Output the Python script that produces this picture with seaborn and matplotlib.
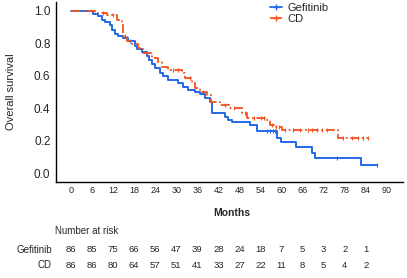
import numpy as np
import pandas as pd
import matplotlib
matplotlib.use("Agg")
import matplotlib.pyplot as plt
import matplotlib.transforms as mtransforms
from matplotlib.lines import Line2D
import seaborn as sns

# ---- data ----
gef_time = [0, 6.3, 7.7, 8.8, 9.7, 11.1, 11.7, 12.5, 13.4, 14.8, 16.2, 18.2, 18.8, 20.2,
            21.5, 22.3, 23.0, 24.0, 25.4, 26.2, 27.6, 30.5, 31.9, 33.3, 35.3, 36.8, 38.2,
            39.6, 40.2, 43.9, 44.7, 45.9, 51.0, 53.0, 58.7, 59.8, 64.0, 68.6, 69.5, 82.6, 87.2]
gef_surv = [1.0, 0.983, 0.97, 0.945, 0.93, 0.915, 0.88, 0.86, 0.845, 0.83, 0.815, 0.785, 0.765, 0.745,
            0.72, 0.70, 0.675, 0.645, 0.62, 0.60, 0.575, 0.555, 0.53, 0.515, 0.50, 0.485, 0.465,
            0.44, 0.37, 0.345, 0.327, 0.315, 0.296, 0.262, 0.216, 0.19, 0.16, 0.123, 0.095, 0.05, 0.05]
gef_censor = [16.8, 55.8, 56.7, 57.5, 58.2, 75.7, 87.2]

cd_time = [0, 6.8, 10.3, 13.1, 14.5, 14.8, 16.0, 17.4, 19.1, 20.5, 23.0, 24.8, 25.9, 27.6,
           31.6, 32.5, 34.5, 35.3, 36.8, 38.7, 40.0, 42.5, 45.3, 48.7, 50.0, 55.3, 56.7,
           58.0, 60.0, 76.0, 84.6]
cd_surv = [1.0, 0.99, 0.977, 0.946, 0.915, 0.845, 0.815, 0.797, 0.77, 0.74, 0.71, 0.685, 0.655, 0.636,
           0.617, 0.586, 0.555, 0.525, 0.50, 0.48, 0.44, 0.42, 0.40, 0.37, 0.34, 0.33, 0.296,
           0.284, 0.265, 0.216, 0.216]
cd_censor = [9.0, 12.0, 15.5, 21.5, 29.0, 30.5, 33.8, 37.5, 44.0, 46.5, 49.5, 52.0, 54.0, 55.0,
             57.2, 58.5, 59.3, 61.0, 63.2, 65.2, 67.5, 68.7, 70.0, 71.5, 73.0, 77.5, 80.0,
             81.8, 83.2, 84.6]

groups = ["Gefitinib", "CD"]
x_ticks = [0, 6, 12, 18, 24, 30, 36, 42, 48, 54, 60, 66, 72, 78, 84, 90]
y_ticks = [0.0, 0.2, 0.4, 0.6, 0.8, 1.0]
risk_times = [0, 6, 12, 18, 24, 30, 36, 42, 48, 54, 60, 66, 72, 78, 84]
gef_risk = [86, 85, 75, 66, 56, 47, 39, 28, 24, 18, 7, 5, 3, 2, 1]
cd_risk = [86, 86, 80, 64, 57, 51, 41, 33, 27, 22, 11, 8, 5, 4, 2]

BLUE = "#2468E8"
RED = "#F4511E"

sns.set_style("white")
plt.rcParams["font.family"] = ["Liberation Sans", "DejaVu Sans"]

fig = plt.figure(figsize=(4.07, 2.78), dpi=100)
ax = fig.add_axes([56 / 407, 1 - 182 / 278, (403 - 56) / 407, (182 - 2) / 278])


def step_value(times, surv, t):
    idx = np.searchsorted(times, t, side="right") - 1
    return np.asarray(surv)[idx]


gef_df = pd.DataFrame({"Months": gef_time, "Survival": gef_surv})
cd_df = pd.DataFrame({"Months": cd_time, "Survival": cd_surv})

sns.lineplot(data=gef_df, x="Months", y="Survival", ax=ax, color=BLUE, lw=1.4,
             drawstyle="steps-post", estimator=None, sort=False)
sns.lineplot(data=cd_df, x="Months", y="Survival", ax=ax, color=RED, lw=1.3,
             drawstyle="steps-post", estimator=None, sort=False, linestyle=(0, (5, 1.5, 1, 1.5)))

gc = pd.DataFrame({"Months": gef_censor,
                   "Survival": step_value(gef_time, gef_surv, np.array(gef_censor))})
cc = pd.DataFrame({"Months": cd_censor,
                   "Survival": step_value(cd_time, cd_surv, np.array(cd_censor))})
sns.scatterplot(data=gc, x="Months", y="Survival", ax=ax, marker="|", s=7,
                color=BLUE, linewidth=0.8)
sns.scatterplot(data=cc, x="Months", y="Survival", ax=ax, marker="|", s=7,
                color=RED, linewidth=0.8)

ax.set_xlim(-4.3, 94.6)
ax.set_ylim(-0.055, 1.055)
ax.set_xticks(x_ticks)
ax.set_yticks(y_ticks)
ax.set_yticklabels([f"{v:.1f}" for v in y_ticks], fontsize=8.5)
ax.set_xticklabels([str(v) for v in x_ticks], fontsize=6.5)
ax.tick_params(axis="both", length=2, width=0.8, color="black", pad=2)
ax.tick_params(axis="x", pad=1)
for s in ["top", "right"]:
    ax.spines[s].set_visible(False)
for s in ["left", "bottom"]:
    ax.spines[s].set_color("black")
    ax.spines[s].set_linewidth(1.0)
ax.set_xlabel("")
ax.set_ylabel("Overall survival", fontsize=8)
ax.yaxis.set_label_coords(-0.115, 0.5)

handles = [Line2D([], [], color=BLUE, lw=1.3, marker="+", markersize=4),
           Line2D([], [], color=RED, lw=1.3, linestyle=(0, (3, 1)), marker="+", markersize=4)]
fig.legend(handles, groups, loc="upper left", bbox_to_anchor=(266 / 407, 1.005),
           frameon=False, fontsize=8, handlelength=1.0, handletextpad=0.5,
           labelspacing=0.05, borderaxespad=0)

fig.text(232 / 407, 1 - 213 / 278, "Months", fontsize=7.5, fontweight="bold",
         ha="center", va="center")
fig.text(55 / 407, 1 - 231 / 278, "Number at risk", fontsize=7, ha="left", va="center")

trans = mtransforms.blended_transform_factory(ax.transData, fig.transFigure)
rows = [(groups[0], gef_risk, 250), (groups[1], cd_risk, 265)]
for name, vals, ypx in rows:
    fig.text(52 / 407, 1 - ypx / 278, name, fontsize=7, ha="right", va="center")
    for t, v in zip(risk_times, vals):
        ax.text(t, 1 - ypx / 278, str(v), transform=trans, fontsize=6.8,
                ha="center", va="center", clip_on=False)

fig.savefig("out.png", dpi=100)
